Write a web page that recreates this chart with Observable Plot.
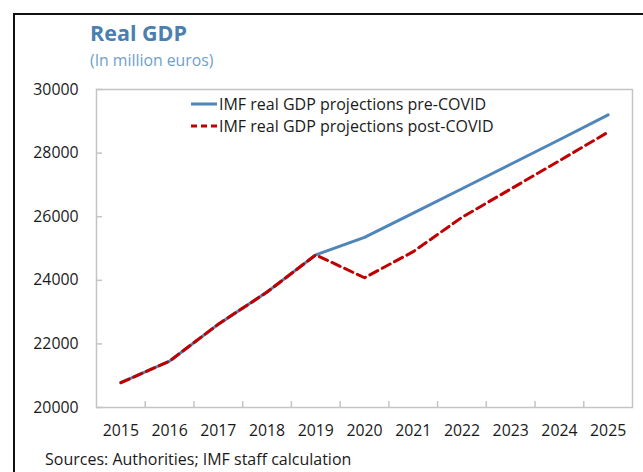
<!DOCTYPE html>
<html>
<head>
<meta charset="utf-8">
<script src="https://cdn.jsdelivr.net/npm/d3@7"></script>
<script src="https://cdn.jsdelivr.net/npm/@observablehq/plot@0.6"></script>
<style>
  html, body { margin: 0; padding: 0; background: #fff; width: 643px; height: 472px; overflow: hidden; }
  body { position: relative; font-family: "Open Sans", "Noto Sans", sans-serif; }
  #border { position: absolute; left: 13px; top: 13px; width: 700px; height: 520px; border: 2px solid #111; box-sizing: border-box; }
  #title { position: absolute; left: 90px; top: 18px; font-size: 21.5px; font-weight: 700; color: #4a7fae; white-space: nowrap; }
  #subtitle { position: absolute; left: 90px; top: 49px; font-size: 15.8px; color: #6f9fcb; white-space: nowrap; }
  #caption { position: absolute; left: 45px; top: 449px; font-size: 16px; line-height: 20px; color: #1a1a1a; white-space: nowrap; }
  #chart { position: absolute; left: 0; top: 0; }
  #legend { position: absolute; left: 191px; top: 93px; font-size: 16px; color: #1a1a1a; line-height: 22px; }
  #legend .row { display: flex; align-items: center; white-space: nowrap; }
  #legend svg { margin-right: 2px; }
</style>
</head>
<body>
<div id="border"></div>
<div id="chart"></div>
<div id="title">Real GDP</div>
<div id="subtitle">(In million euros)</div>
<div id="legend"></div>
<div id="caption">Sources: Authorities; IMF staff calculation</div>
<script>
const years = [2015, 2016, 2017, 2018, 2019, 2020, 2021, 2022, 2023, 2024, 2025];
const preCovid  = [20780, 21460, 22620, 23630, 24800, 25350, 26110, 26880, 27650, 28420, 29200];
const postCovid = [20780, 21460, 22620, 23630, 24800, 24080, 24900, 25980, 26870, 27760, 28660];
const yTicks = [20000, 22000, 24000, 26000, 28000, 30000];
const seriesNames = ["IMF real GDP projections pre-COVID", "IMF real GDP projections post-COVID"];
const seriesColors = ["#4f86b8", "#c00000"];

const boundaries = years.slice(1).map(y => y - 0.5);
const gridColor = "#c4c4c4";

const chart = Plot.plot({
  width: 643,
  height: 472,
  marginLeft: 96,
  marginRight: 11,
  marginTop: 89,
  marginBottom: 65,
  style: { fontFamily: "Open Sans, Noto Sans, sans-serif", fontSize: "15.8px", color: "#1a1a1a", background: "transparent" },
  x: { domain: [years[0] - 0.5, years[years.length - 1] + 0.5] },
  y: { domain: [yTicks[0], yTicks[yTicks.length - 1]] },
  marks: [
    Plot.frame({ stroke: gridColor, strokeWidth: 1.5 }),
    Plot.tickX(boundaries, { x: d => d, insetTop: 312, stroke: gridColor, strokeWidth: 1.5 }),
    Plot.tickY(yTicks, { y: d => d, insetRight: 530, stroke: gridColor, strokeWidth: 1.5 }),
    Plot.axisX(years, { tickSize: 0, tickPadding: 17, tickFormat: d => String(d), fontSize: 15.8 }),
    Plot.axisY(yTicks, { tickSize: 0, tickPadding: 18, tickFormat: d => String(d), fontSize: 15.8 }),
    Plot.line(years, { x: d => d, y: (d, i) => preCovid[i], stroke: seriesColors[0], strokeWidth: 3 }),
    Plot.line(years, { x: d => d, y: (d, i) => postCovid[i], stroke: seriesColors[1], strokeWidth: 3, strokeDasharray: "9,5" })
  ]
});
document.getElementById("chart").appendChild(chart);

const legend = document.getElementById("legend");
seriesNames.forEach((name, i) => {
  const row = document.createElement("div");
  row.className = "row";
  const dash = i === 1 ? ' stroke-dasharray="6,4"' : '';
  row.innerHTML = `<svg width="26" height="6"><line x1="0" y1="3" x2="26" y2="3" stroke="${seriesColors[i]}" stroke-width="3"${dash}/></svg><span>${name}</span>`;
  legend.appendChild(row);
});
</script>
</body>
</html>
